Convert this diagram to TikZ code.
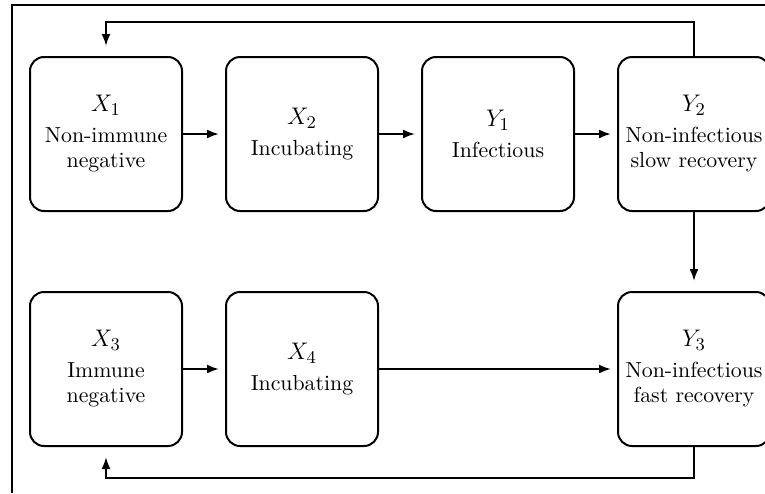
\documentclass[tikz,border=0pt]{standalone}
\usepackage{tikz}
\usetikzlibrary{positioning, arrows.meta}

\begin{document}
\begin{tikzpicture}[x=0.5pt, y=0.5pt, node distance=39.5pt and 21pt,
  every node/.style={font=\fontsize{10.9}{12.5}\selectfont},
  state/.style={draw, line width=1pt, rounded corners=7pt, fill=white, minimum width=76pt, minimum height=77pt, align=center, inner sep=2pt},
  flow/.style={-{Latex[length=6pt,width=4.5pt]}, line width=1pt, shorten >=3pt}]
  \useasboundingbox (0,0) rectangle (765,-493);
  \draw[line width=0.7pt] (765,-5) -- (12,-5) -- (12,-493);

  \node[state] (x1) at (106,-134) {{\fontsize{12.4}{15}\selectfont $X_1$}\\[3pt] Non-immune\\ negative};
  \node[state, right=of x1] (x2) {{\fontsize{12.4}{15}\selectfont $X_2$}\\[3pt] Incubating};
  \node[state, right=of x2] (y1) {{\fontsize{12.4}{15}\selectfont $Y_1$}\\[3pt] Infectious};
  \node[state, right=of y1] (y2) {{\fontsize{12.4}{15}\selectfont $Y_2$}\\[3pt] Non-infectious\\ slow recovery};
  \node[state, below=of x1] (x3) {{\fontsize{12.4}{15}\selectfont $X_3$}\\[3pt] Immune\\ negative};
  \node[state, right=of x3] (x4) {{\fontsize{12.4}{15}\selectfont $X_4$}\\[3pt] Incubating};
  \node[state, below=of y2] (y3) {{\fontsize{12.4}{15}\selectfont $Y_3$}\\[3pt] Non-infectious\\ fast recovery};

  \draw[flow] (x1) -- (x2);
  \draw[flow] (x2) -- (y1);
  \draw[flow] (y1) -- (y2);
  \draw[flow, shorten >=5pt] (y2) -- (y3);
  \draw[flow] (x3) -- (x4);
  \draw[flow] (x4) -- (y3);
  % loops back to the left column
  \draw[flow, shorten >=5pt] (y2.north) -- (y2.north |- 0,-22) -| (x1.north);
  \draw[flow, shorten >=5pt] (y3.south) -- (y3.south |- 0,-478) -| (x3.south);
\end{tikzpicture}
\end{document}
